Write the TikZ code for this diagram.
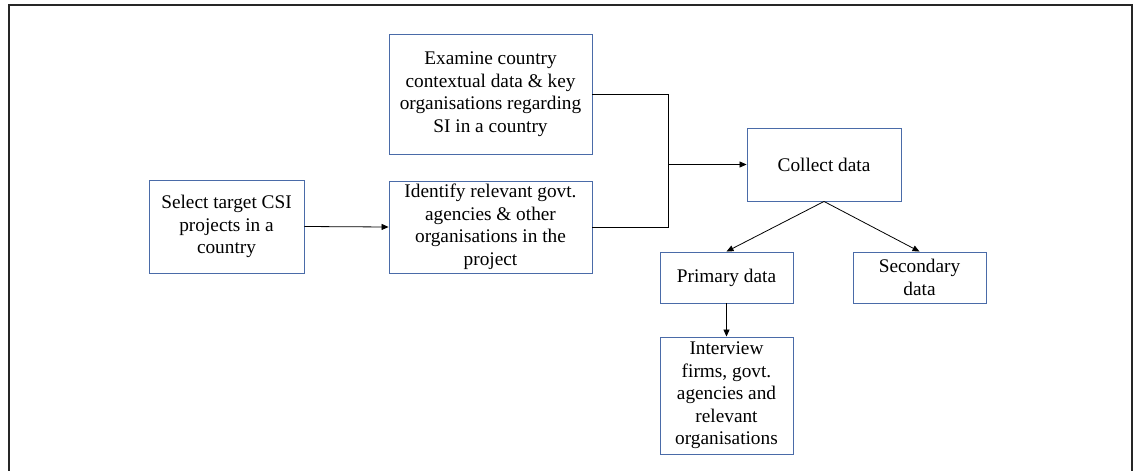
\documentclass[tikz,border=0pt]{standalone}
\usepackage{fontspec}
\setmainfont{Liberation Serif}
\usetikzlibrary{arrows.meta}
\definecolor{boxblue}{HTML}{4A6BA8}
\begin{document}
\begin{tikzpicture}[x=1pt,y=-1pt,
  box/.style={draw=boxblue,line width=0.9pt,align=center,inner sep=0pt,
    font=\fontsize{19.3}{22.5}\selectfont},
  link/.style={draw=black,line width=0.8pt},
  arr/.style={link,-{Triangle[length=7pt,width=6pt]}}]
\useasboundingbox (0,0) rectangle (1135,471);
% outer frame, open at the bottom
\draw[line width=2pt,black!85] (8.5,471) -- (8.5,4.5) -- (1132,4.5) -- (1132,471);
% boxes (corner to corner)
\node[box,minimum width=155pt,minimum height=93pt] (sel) at (226.5,226.5) {Select target CSI\\projects in a\\country};
\node[box,minimum width=203pt,minimum height=92pt] (idf) at (490.5,227) {Identify relevant govt.\\agencies \& other\\organisations in the\\project};
\node[box,minimum width=203pt,minimum height=120pt] (exa) at (490.5,94) {Examine country\\contextual data \& key\\organisations regarding\\SI in a country};
\node[box,minimum width=154pt,minimum height=73pt] (col) at (824,164.5) {Collect data};
\node[box,minimum width=133pt,minimum height=51pt] (pri) at (726.5,277.5) {Primary data};
\node[box,minimum width=133pt,minimum height=51pt] (sec) at (919.5,277.5) {Secondary\\data};
\node[box,minimum width=133pt,minimum height=117pt] (int) at (726.5,395.5) {Interview\\firms, govt.\\agencies and\\relevant\\organisations};
% bracket joining the two middle steps
\coordinate (bx) at (668,164.5);
\draw[arr] (sel.east) -- (idf.west);
\draw[link] (exa.east) -| (bx);
\draw[link] (idf.east) -| (bx);
\draw[arr] (bx) -- (col.west);
\draw[arr] (col.south) -- (pri.north);
\draw[arr] (col.south) -- (sec.north);
\draw[arr] (pri.south) -- (int.north);
\end{tikzpicture}
\end{document}
